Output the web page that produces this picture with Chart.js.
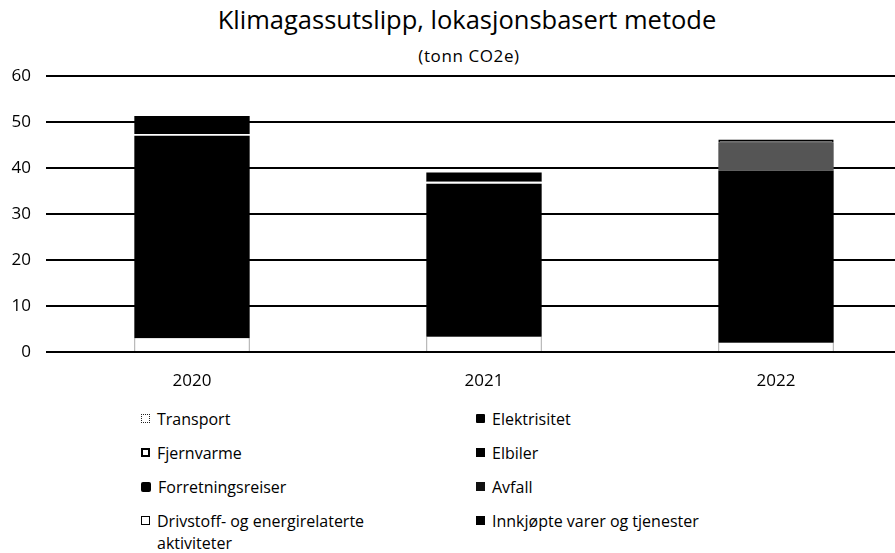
<!DOCTYPE html>
<html>
<head>
<meta charset="utf-8">
<script src="https://cdn.jsdelivr.net/npm/chart.js@4.4.0/dist/chart.umd.min.js"></script>
<style>
  html, body { margin: 0; padding: 0; background: #fff; overflow: hidden; }
  body { width: 895px; height: 553px; position: relative; font-family: "Open Sans", Lato, sans-serif; color: #000; }
  #title { position: absolute; left: 0; width: 934px; top: 2px; text-align: center; font-size: 25.5px; }
  #subtitle { position: absolute; left: 0; width: 938px; top: 44px; text-align: center; font-size: 17px; letter-spacing: 0.6px; }
  #wrap { position: absolute; left: 0; top: 0; width: 922px; height: 400px; }
  #legend { position: absolute; left: 141px; top: 408px; display: grid; grid-template-columns: 335px 335px; grid-auto-flow: row; row-gap: 12px; font-size: 16px; }
  #legend .item { display: flex; align-items: flex-start; line-height: 22px; }
  #legend .box { width: 9px; height: 9px; margin: 6px 7px 0 0; flex: none; box-sizing: border-box; }
  #legend .txt { max-width: 215px; }
</style>
</head>
<body>
<div id="title">Klimagassutslipp, lokasjonsbasert metode</div>
<div id="subtitle">(tonn CO2e)</div>
<div id="wrap"><canvas id="cnv"></canvas></div>
<div id="legend"></div>
<script>
(function(){

    var years = ["2020", "2021", "2022"];
    var yTicks = [0, 10, 20, 30, 40, 50, 60];

    // tonn CO2e per kilde og år
    var transport         = [3.0, 3.3, 2.0];
    var elektrisitet      = [44.0, 33.3, 37.4];
    var fjernvarme        = [0.4, 0.4, 0];
    var elbiler           = [0, 0, 0];
    var forretningsreiser = [3.9, 2.0, 0];
    var avfall            = [0, 0, 6.1];
    var drivstoff         = [0, 0, 0.7];
    var innkjopte         = [0, 0, 0];

    var datasets = [
        { label: "Transport", data: transport, backgroundColor: "#fff", borderColor: "#666",
          borderWidth: { left: 1, right: 1, top: 0, bottom: 0 }, borderSkipped: false,
          legendBox: "background:#fff;border:1px dotted #222;" },
        { label: "Elektrisitet", data: elektrisitet, backgroundColor: "#000", borderWidth: 0,
          legendBox: "background:#000;border-radius:1px;" },
        { label: "Fjernvarme", data: fjernvarme, backgroundColor: "#fff", borderWidth: 0,
          legendBox: "background:#fff;border:2px solid #000;" },
        { label: "Elbiler", data: elbiler, backgroundColor: "#000", borderWidth: 0,
          legendBox: "background:#000;" },
        { label: "Forretningsreiser", data: forretningsreiser, backgroundColor: "#000", borderWidth: 0,
          legendBox: "background:#000;border-radius:2px;width:10px;height:10px;" },
        { label: "Avfall", data: avfall, backgroundColor: "#555", borderWidth: 0,
          legendBox: "background:#111;" },
        { label: "Drivstoff- og energirelaterte aktiviteter", data: drivstoff, backgroundColor: "#fff",
          borderColor: "#000", borderWidth: 1.5, borderSkipped: false,
          legendBox: "background:#fff;border:1px solid #000;" },
        { label: "Innkjøpte varer og tjenester", data: innkjopte, backgroundColor: "#000", borderWidth: 0,
          legendBox: "background:#000;" }
    ];

    var opt = {
        responsive: true,
        maintainAspectRatio: false,
        animation: false,
        layout: { padding: { top: 76, left: 0, right: 0, bottom: 0 } },
        plugins: {
            legend: { display: false },
            title: { display: false },
            tooltip: { enabled: false }
        },
        datasets: { bar: { categoryPercentage: 1, barPercentage: 0.395 } },
        scales: {
            x: {
                stacked: true,
                grid: { display: false, drawTicks: false },
                border: { display: false },
                ticks: { color: "#000", padding: 19, font: { family: "Open Sans", size: 17 } },
                afterFit: function(s){ s.height = 48; }
            },
            y: {
                stacked: true,
                min: 0, max: 60,
                afterBuildTicks: function(s){ s.ticks = yTicks.map(function(v){ return { value: v }; }); },
                grid: { color: "#000", lineWidth: 2, drawTicks: false },
                border: { display: false },
                ticks: { color: "#000", padding: 15, font: { family: "Open Sans", size: 17 } },
                afterFit: function(s){ s.width = 46; }
            }
        }
    };

    var myChart = new Chart(document.getElementById("cnv"), {
        type: "bar",
        options: opt,
        data: { labels: years, datasets: datasets }
    });

    // egen legende i to kolonner
    var leg = document.getElementById("legend");
    myChart.data.datasets.forEach(function(ds){
        var it = document.createElement("div");
        it.className = "item";
        var b = document.createElement("span");
        b.className = "box";
        b.style.cssText = ds.legendBox;
        var t = document.createElement("span");
        t.className = "txt";
        t.textContent = ds.label;
        it.appendChild(b); it.appendChild(t);
        leg.appendChild(it);
    });

})();
</script>
</body>
</html>
